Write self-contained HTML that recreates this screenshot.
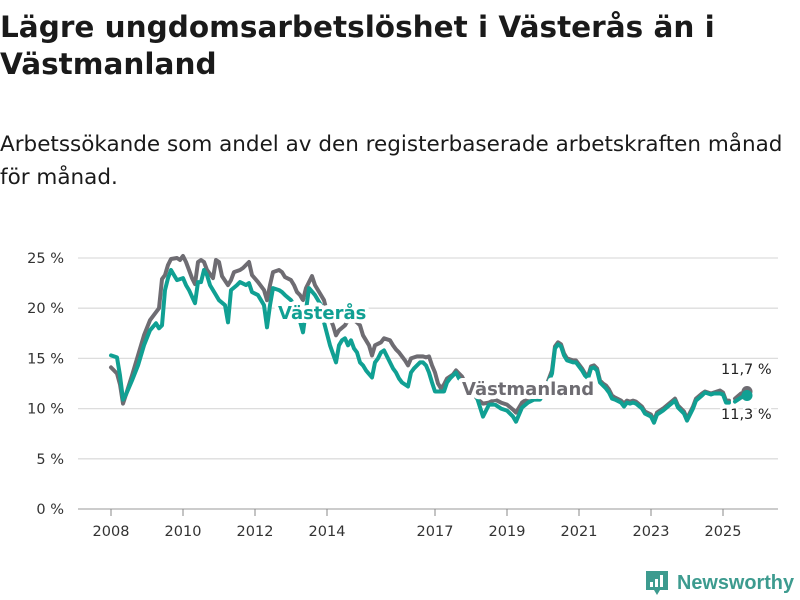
<!DOCTYPE html>
<html><head><meta charset="utf-8">
<style>
body{margin:0;width:800px;height:600px;background:#fff;overflow:hidden;font-family:"DejaVu Sans","Liberation Sans",sans-serif;color:#1a1a1a;position:relative}
#title{position:absolute;left:0;top:9px;font-size:29.5px;font-weight:bold;line-height:37px;margin:0;width:800px}
#sub{position:absolute;left:0;top:128px;font-size:21.5px;line-height:33px;margin:0;width:795px}
svg{position:absolute;left:0;top:0}
</style></head><body>
<h1 id="title">Lägre ungdomsarbetslöshet i Västerås än i Västmanland</h1>
<p id="sub">Arbetssökande som andel av den registerbaserade arbetskraften månad för månad.</p>
<svg id="chart" width="800" height="600"></svg>
<script>
const yTicks=[0,5,10,15,20,25];
const xTickYears=[2008,2010,2012,2014,2017,2019,2021,2023,2025];
const tealMonths=[0,2,3,4,5,7,9,11,13,15,16,17,18,19,20,21,22,24,25,26,28,29,30,31,32,33,35,36,38,39,40,42,43,45,46,47,49,51,52,53,54,56,57,58,60,61,62,64,66,68,70,71,73,75,76,77,78,79,80,81,82,83,84,85,87,88,89,90,91,92,93,94,95,96,97,99,100,101,102,103,104,105,106,107,108,111,112,113,114,115,116,118,120,122,124,126,128,130,132,134,135,137,139,141,143,145,147,148,149,150,151,152,154,155,156,157,158,159,160,161,162,163,164,165,166,167,168,170,171,172,173,174,175,177,178,180,181,182,184,186,188,189,191,192,194,195,197,198,200,201,203,204,205,206,207,208,210,212];
const tealValues=[15.3,15.1,13.3,10.9,11.4,12.8,14.3,16.3,17.8,18.5,18.0,18.3,21.8,23.0,23.8,23.3,22.8,23.0,22.3,21.8,20.5,22.6,22.6,23.8,23.3,22.3,21.3,20.8,20.3,18.6,21.8,22.3,22.6,22.3,22.5,21.6,21.3,20.3,18.1,20.3,22.0,21.8,21.6,21.3,20.8,20.3,19.8,17.6,22.0,21.3,20.3,18.6,16.3,14.6,16.3,16.8,17.0,16.3,16.8,16.0,15.6,14.6,14.3,13.8,13.1,14.6,15.0,15.6,15.8,15.2,14.6,14.0,13.6,13.0,12.6,12.2,13.6,14.0,14.3,14.6,14.6,14.3,13.6,12.6,11.7,11.7,12.6,13.0,13.3,13.6,13.0,12.4,11.8,11.1,9.2,10.4,10.4,10.0,9.8,9.2,8.7,10.1,10.6,10.9,10.9,12.0,13.5,16.0,16.4,16.2,15.3,14.8,14.6,14.6,14.2,13.8,13.3,13.0,14.0,14.1,13.8,12.6,12.3,12.0,11.6,11.0,10.9,10.6,10.2,10.6,10.5,10.6,10.5,10.0,9.5,9.2,8.6,9.4,9.8,10.3,10.8,10.1,9.5,8.8,10.0,10.8,11.3,11.6,11.4,11.5,11.5,11.4,10.6,10.6,null,10.7,11.1,11.3];
const grayMonths=[0,2,3,4,5,7,9,11,13,15,16,17,18,19,20,22,23,24,25,26,27,28,29,30,31,32,34,35,36,37,39,40,41,43,44,46,47,49,51,52,53,54,56,57,58,60,61,62,63,64,65,67,68,70,71,72,74,75,76,78,79,80,82,83,84,85,86,87,88,90,91,93,94,95,96,98,99,100,102,104,105,106,107,108,109,110,111,112,114,115,116,117,118,120,122,124,126,128,130,132,134,135,137,139,141,143,145,147,148,149,150,151,152,154,155,156,157,158,159,160,161,162,163,164,165,166,167,168,170,171,172,173,174,175,177,178,180,181,182,184,186,188,189,191,192,194,195,197,198,200,201,203,204,205,206,207,208,210,212];
const grayValues=[14.1,13.5,12.4,10.5,11.4,13.3,15.3,17.3,18.8,19.6,20.0,22.9,23.3,24.3,24.9,25.0,24.8,25.2,24.6,23.8,23.0,22.4,24.6,24.8,24.6,23.8,23.0,24.8,24.6,23.2,22.3,22.8,23.6,23.8,24.0,24.6,23.3,22.6,21.8,20.8,22.3,23.6,23.8,23.6,23.1,22.8,22.3,21.6,21.3,20.8,22.0,23.2,22.3,21.3,20.8,19.6,18.3,17.3,17.8,18.3,18.8,19.0,18.6,18.3,17.3,16.8,16.3,15.3,16.3,16.6,17.0,16.8,16.3,15.9,15.6,14.8,14.3,15.0,15.2,15.2,15.1,15.2,14.3,13.6,12.5,12.0,12.4,13.0,13.4,13.8,13.5,13.2,12.6,11.8,11.0,10.5,10.6,10.9,10.6,10.4,9.9,9.6,10.6,11.0,11.2,11.0,12.2,13.8,16.2,16.6,16.4,15.5,15.0,14.8,14.8,14.4,14.0,13.5,13.2,14.2,14.3,14.0,12.8,12.5,12.3,11.9,11.3,11.1,10.8,10.5,10.8,10.7,10.8,10.7,10.2,9.7,9.4,8.8,9.6,10.0,10.5,11.0,10.3,9.7,9.0,10.2,11.0,11.5,11.7,11.5,11.6,11.8,11.6,10.8,10.8,null,11.0,11.5,11.7];
const endLabels=["11,7 %","11,3 %"];

const NS="http://www.w3.org/2000/svg";
const svg=document.getElementById('chart');
const X0=111,PXM=3,Y0=509,PXV=10.04,LEFT=78,RIGHT=778;
function xs(m){return X0+m*PXM;}
function ys(v){return Y0-v*PXV;}
function mk(t,a,p){const e=document.createElementNS(NS,t);for(const k in a)e.setAttribute(k,a[k]);(p||svg).appendChild(e);return e;}

yTicks.forEach(v=>{
  const g=mk('line',{x1:LEFT,x2:RIGHT,y1:ys(v),y2:ys(v),stroke:v===0?'#bbb':'#ddd','stroke-width':v===0?1.5:1.3});
  
  
  const t=mk('text',{x:64,y:ys(v)+5,'text-anchor':'end','font-size':14.5,fill:'#333'});
  t.textContent=v+' %';
  
  
});
xTickYears.forEach(yr=>{
  const x=xs((yr-2008)*12);
  const l=mk('line',{x1:x,x2:x,y1:Y0,y2:Y0+7,stroke:'#888','stroke-width':1});
  
  
  const t=mk('text',{x:x,y:536,'text-anchor':'middle','font-size':14.5,fill:'#333'});
  t.textContent=yr;
  
  
});
function path(months,vals){
  let d='',pen=false;
  months.forEach((m,i)=>{const v=vals[i];if(v==null){pen=false;return;}d+=(pen?'L':'M')+xs(m).toFixed(1)+','+ys(v).toFixed(1);pen=true;});
  return d;
}
const gp=mk('path',{d:path(grayMonths,grayValues),fill:'none',stroke:'#6e6c72','stroke-width':4,'stroke-linejoin':'round','stroke-linecap':'round'});


const tp=mk('path',{d:path(tealMonths,tealValues),fill:'none',stroke:'#10a093','stroke-width':4,'stroke-linejoin':'round','stroke-linecap':'round'});


const gl=grayMonths.length-1, tl=tealMonths.length-1;
const gd=mk('circle',{cx:xs(grayMonths[gl]),cy:ys(grayValues[gl]),r:5.5,fill:'#6e6c72'});


const td=mk('circle',{cx:xs(tealMonths[tl]),cy:ys(tealValues[tl]),r:5.5,fill:'#10a093'});


function halo(x,y,txt,col,name,size,bold,sw){
  const t=mk('text',{x:x,y:y,'font-size':size,'font-weight':bold?'bold':'normal',fill:col,stroke:'#fff','stroke-width':sw,'paint-order':'stroke','stroke-linejoin':'round'});
  t.textContent=txt;
  
  
}
halo(278,319,'Västerås','#10a093','vasteras-label',18,true,8);
halo(462,395,'Västmanland','#6e6c72','vastmanland-label',18,true,8);
halo(721,374,endLabels[0],'#222','vastmanland-end-value',14.5,false,5);
halo(721,419,endLabels[1],'#222','vasteras-end-value',14.5,false,5);
const lg=mk('g',{});


mk('path',{d:'M646,571h22v19h-8l-3,5l-3,-5h-8z',fill:'#3d9b8f'},lg);
mk('rect',{x:650,y:582,width:3,height:5,fill:'#fff'},lg);
mk('rect',{x:655,y:579,width:3,height:8,fill:'#fff'},lg);
mk('rect',{x:660,y:575,width:3,height:12,fill:'#fff'},lg);
const lt=mk('text',{x:677,y:589,'font-size':20,'font-weight':'bold',fill:'#3d9b8f',textLength:117,lengthAdjust:'spacingAndGlyphs','font-family':'Liberation Sans, sans-serif'},lg);
lt.textContent='Newsworthy';
</script>
</body></html>
